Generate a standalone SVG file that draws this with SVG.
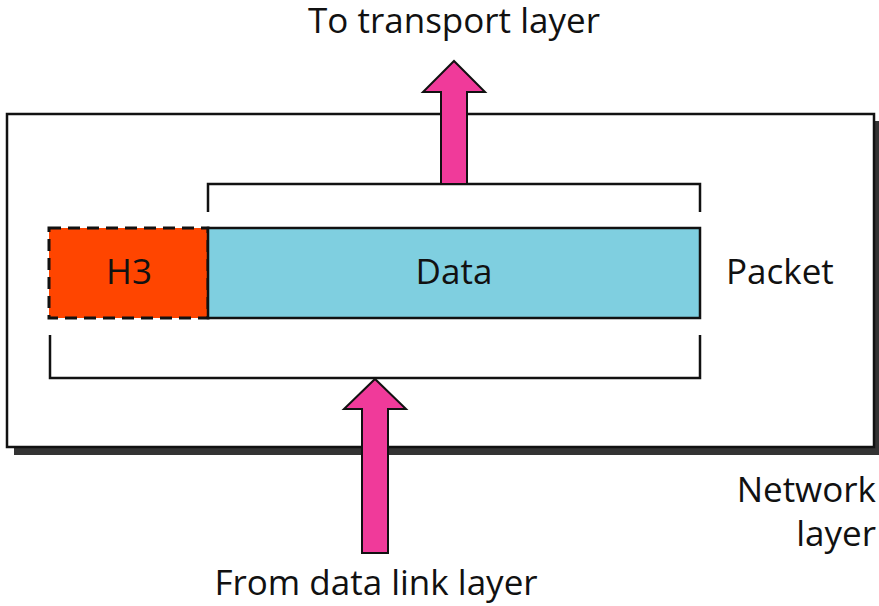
<svg xmlns="http://www.w3.org/2000/svg" width="879" height="606" viewBox="0 0 879 606">
<style>
text{font-family:"Open Sans","Noto Sans","Liberation Sans",sans-serif;font-size:35px;fill:#111}
.ln{fill:none;stroke:#111;stroke-width:2.5}
.arrow{fill:#F03A9A;stroke:#111;stroke-width:2;stroke-linejoin:miter}
</style>
<rect width="879" height="606" fill="#fff"/>
<g id="network-layer">
<rect x="14" y="121" width="866" height="334" fill="#333"/>
<rect x="7" y="114" width="867" height="333" fill="#fff" stroke="#111" stroke-width="2.5"/>
<text x="876" y="502" text-anchor="end">Network</text>
<text x="876" y="546" text-anchor="end">layer</text>
</g>
<g id="h3">
<rect x="49" y="228" width="159" height="90" fill="#FF4500"/>
<rect x="49" y="228" width="159" height="90" fill="none" stroke="#111" stroke-width="3" stroke-dasharray="12,7"/>
<text x="129" y="284" text-anchor="middle">H3</text>
</g>
<g id="data">
<rect x="208" y="228" width="492" height="90" fill="#7FCFE0" stroke="#111" stroke-width="2.5"/>
<text x="454" y="284" text-anchor="middle">Data</text>
</g>
<g id="packet">
<polyline class="ln" points="50,335 50,378 700,378 700,335"/>
<text x="726" y="284">Packet</text>
</g>
<g id="connectors">
<polyline class="ln" points="208,212 208,184 700,184 700,212"/>
<polygon class="arrow" points="441,184 441,92 423,92 454,61 485,92 467,92 467,184"/>
<polygon class="arrow" points="362,553 362,409 344,409 375,379 406,409 388,409 388,553"/>
</g>
<g id="labels">
<text x="454" y="33" text-anchor="middle" font-size="34">To transport layer</text>
<text x="376" y="595" text-anchor="middle">From data link layer</text>
</g>
</svg>
